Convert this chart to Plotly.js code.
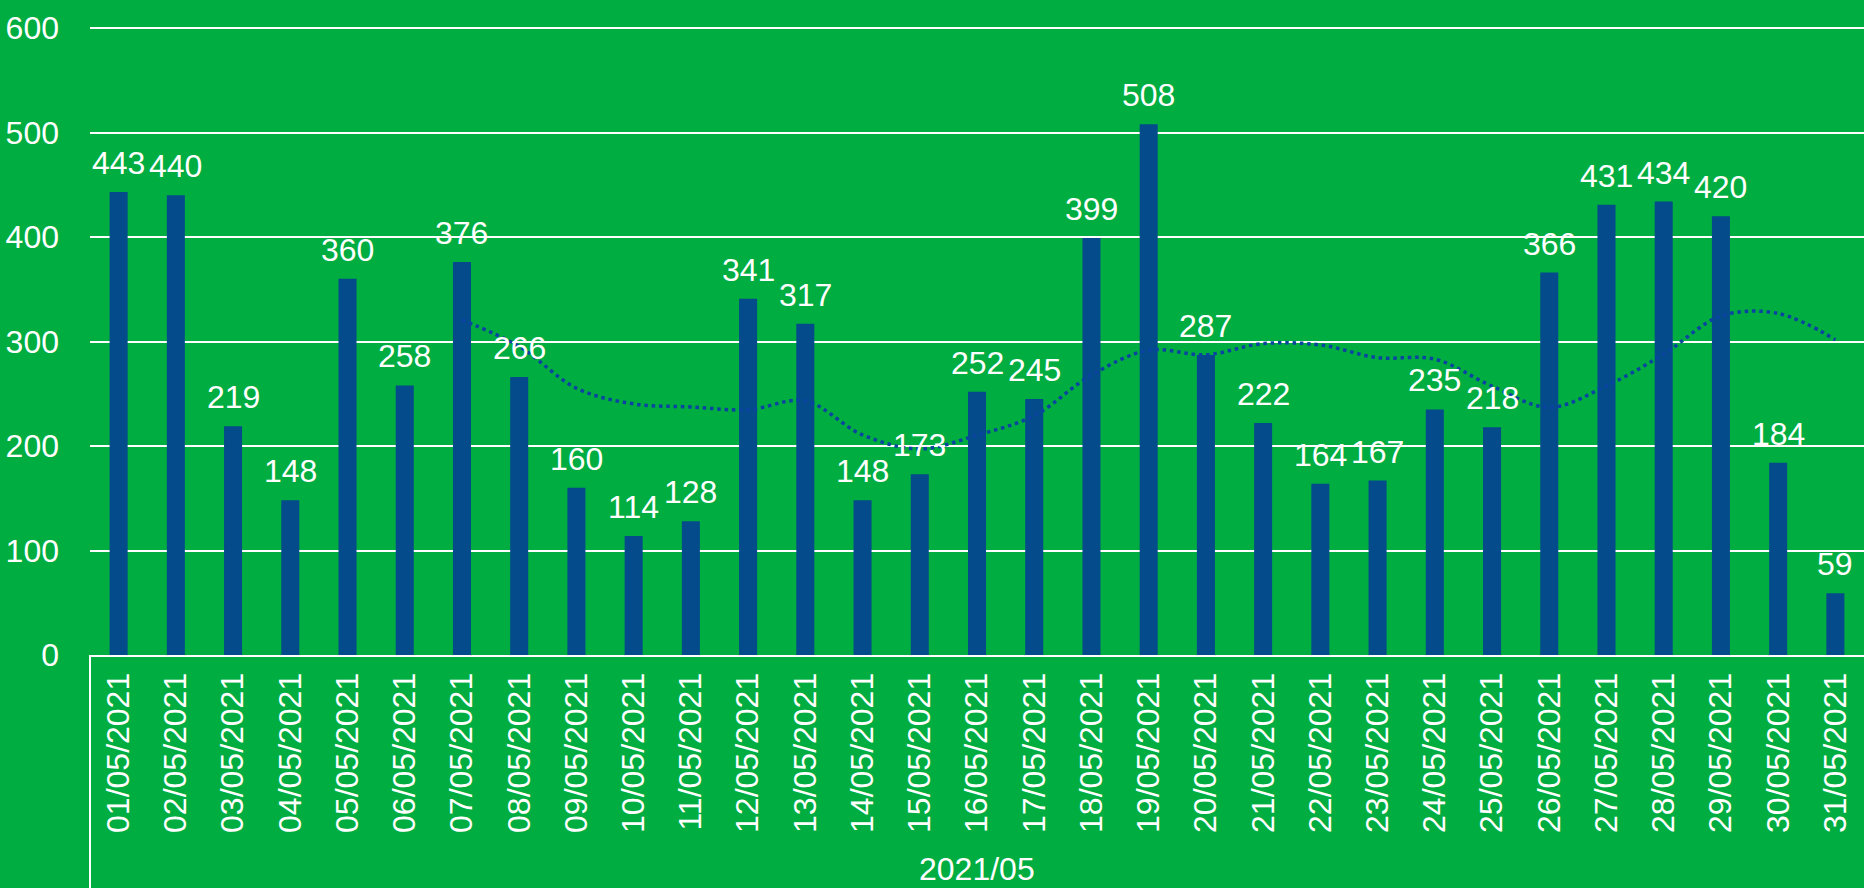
<!DOCTYPE html>
<html>
<head>
<meta charset="utf-8">
<script src="https://cdn.plot.ly/plotly-3.0.1.min.js"></script>
<style>html,body{margin:0;padding:0;background:#00AD41;}#chart{width:1864px;height:888px;}</style>
</head>
<body>
<div id="chart"></div>
<script>
const dates = ["01/05/2021","02/05/2021","03/05/2021","04/05/2021","05/05/2021","06/05/2021","07/05/2021","08/05/2021","09/05/2021","10/05/2021","11/05/2021","12/05/2021","13/05/2021","14/05/2021","15/05/2021","16/05/2021","17/05/2021","18/05/2021","19/05/2021","20/05/2021","21/05/2021","22/05/2021","23/05/2021","24/05/2021","25/05/2021","26/05/2021","27/05/2021","28/05/2021","29/05/2021","30/05/2021","31/05/2021"];
const values = [443,440,219,148,360,258,376,266,160,114,128,341,317,148,173,252,245,399,508,287,222,164,167,235,218,366,431,434,420,184,59];
// 7-day moving-average trendline (starts on the 7th day)
const trendDates = dates.slice(6);
const trendValues = [320.6,295.3,255.3,240.3,237.4,234.7,243.1,210.6,197.3,210.4,229.1,267.9,291.7,287.4,298.0,296.7,284.6,283.1,257.3,237.0,257.6,287.9,324.4,326.9,301.7];
const groupLabel = "2021/05";
const yTicks = [0,100,200,300,400,500,600];

const green = "#00AD41";
const barColor = "#034B8A";
const font = "Liberation Sans, Arial, sans-serif";

const traces = [
  {
    type: "bar",
    x: dates,
    y: values,
    marker: {color: barColor},
    hoverinfo: "x+y"
  },
  {
    type: "scatter",
    mode: "lines",
    x: trendDates,
    y: trendValues,
    line: {color: "#0A44A0", width: 3.5, dash: "3.5px,3.8px", shape: "spline"},
    hoverinfo: "skip"
  }
];

const annotations = dates.map((d, i) => ({
  x: d, y: values[i], xref: "x", yref: "y",
  text: String(values[i]),
  showarrow: false,
  yanchor: "middle",
  yshift: 29,
  font: {family: font, size: 32, color: "#FFFFFF"}
}));
annotations.push({
  x: 0.5, y: -0.371, xref: "paper", yref: "paper",
  text: groupLabel, showarrow: false, yanchor: "bottom", borderpad: 0,
  font: {family: font, size: 32, color: "#FFFFFF"}
});

const layout = {
  width: 1864,
  height: 888,
  paper_bgcolor: green,
  plot_bgcolor: green,
  showlegend: false,
  bargap: 0.685,
  margin: {l: 90, r: 0, t: 27, b: 233},
  font: {family: font, color: "#FFFFFF", size: 32},
  xaxis: {
    type: "category",
    tickangle: -90,
    showgrid: false,
    showline: true,
    linecolor: "#FFFFFF",
    linewidth: 2,
    ticks: "",
    ticklabelstandoff: 3,
    tickfont: {family: font, size: 32, color: "#FFFFFF"},
    fixedrange: true
  },
  yaxis: {
    range: [0, 601],
    tickvals: yTicks,
    ticktext: yTicks.map(String),
    showgrid: true,
    gridcolor: "#FFFFFF",
    gridwidth: 2,
    zeroline: false,
    showline: false,
    ticks: "",
    ticklabelstandoff: 30,
    tickfont: {family: font, size: 32, color: "#FFFFFF"},
    fixedrange: true
  },
  annotations: annotations,
  shapes: [
    {type: "line", xref: "paper", yref: "paper", x0: 0, x1: 0, y0: 0, y1: -0.372,
     line: {color: "#FFFFFF", width: 2}}
  ]
};

Plotly.newPlot("chart", traces, layout, {displayModeBar: false, staticPlot: true});
</script>
</body>
</html>
